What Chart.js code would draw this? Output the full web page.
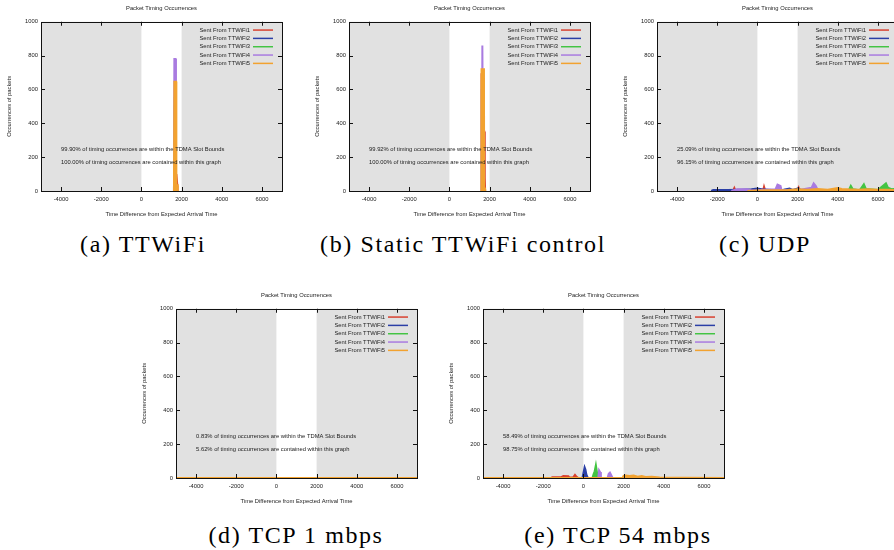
<!DOCTYPE html>
<html>
<head>
<meta charset="utf-8">
<script src="https://cdn.jsdelivr.net/npm/chart.js@4.4.0/dist/chart.umd.min.js"></script>
<style>
html, body { margin: 0; padding: 0; background: #fff; width: 894px; height: 550px; overflow: hidden; position: relative; }
.plot { position: absolute; }
.cap { position: absolute; font-family: "Liberation Serif", "Times New Roman", serif; font-size: 24px; line-height: 24px;
       letter-spacing: 1.6px; white-space: nowrap; transform: translateX(-50%); color: #000; }
</style>
</head>
<body>
<canvas id="cA" class="plot" width="300" height="225" style="left:0px;top:0px"></canvas>
<canvas id="cB" class="plot" width="300" height="225" style="left:308px;top:0px"></canvas>
<canvas id="cC" class="plot" width="300" height="225" style="left:616px;top:0px"></canvas>
<canvas id="cD" class="plot" width="300" height="225" style="left:135px;top:287px"></canvas>
<canvas id="cE" class="plot" width="300" height="225" style="left:442px;top:287px"></canvas>

<div class="cap" style="left:143px;top:232px">(a) TTWiFi</div>
<div class="cap" style="left:463px;top:232px">(b) Static TTWiFi control</div>
<div class="cap" style="left:765px;top:232px">(c) UDP</div>
<div class="cap" style="left:296px;top:523px">(d) TCP 1 mbps</div>
<div class="cap" style="left:618px;top:523px">(e) TCP 54 mbps</div>

<script>
const xTicks = [-4000, -2000, 0, 2000, 4000, 6000]
const yTicks = [0, 200, 400, 600, 800, 1000]
const slotBounds = [0, 2000]
const seriesLabels = ['Sent From TTWiFi1', 'Sent From TTWiFi2', 'Sent From TTWiFi3', 'Sent From TTWiFi4', 'Sent From TTWiFi5']
const seriesColors = ['#d8412f', '#2b3fa6', '#43c443', '#a97be0', '#f2a230']

// (a) TTWiFi  [time, count]
const ttwifi1 = [[1700, 0], [1720, 60], [1740, 100], [1770, 100], [1790, 30], [1800, 0]]
const ttwifi2 = [[1640, 0], [1660, 500], [1700, 500], [1720, 0]]
const ttwifi3 = [[1640, 0], [1660, 550], [1700, 550], [1720, 0]]
const ttwifi4 = [[1620, 0], [1640, 780], [1700, 780], [1720, 0]]
const ttwifi5 = [[1620, 0], [1640, 645], [1730, 645], [1740, 0], [1780, 0], [1800, 40], [1820, 0]]
const notesTtwifi = ['99.90% of timing occurrences are within the TDMA Slot Bounds',
                     '100.00% of timing occurrences are contained within this graph']

// (b) Static TTWiFi control
const static1 = [[1580, 0], [1600, 690], [1640, 690], [1680, 300], [1720, 350], [1740, 350], [1760, 80], [1780, 0]]
const static2 = [[1600, 0], [1620, 600], [1680, 600], [1700, 0]]
const static3 = [[1600, 0], [1620, 650], [1680, 650], [1700, 0]]
const static4 = [[1620, 0], [1640, 860], [1660, 860], [1680, 0]]
const static5 = [[1590, 0], [1600, 720], [1720, 720], [1730, 0], [1760, 0], [1770, 20], [1790, 0]]
const notesStatic = ['99.92% of timing occurrences are within the TDMA Slot Bounds',
                     '100.00% of timing occurrences are contained within this graph']

// (c) UDP
const udp1 = [[-2000, 0], [-1300, 0], [-1200, 5], [-1150, 18], [-1100, 3], [-600, 2], [-200, 5], [0, 8], [300, 10], [330, 25],
              [380, 5], [800, 3], [1500, 5], [2000, 8], [2050, 20], [2100, 4], [2600, 5], [3200, 3], [4000, 2], [5000, 2], [7000, 0]]
const udp2 = [[-2300, 0], [-2200, 6], [-1500, 6], [-800, 8], [-300, 10], [0, 14], [200, 10], [700, 6], [1300, 8], [1600, 15],
              [1750, 6], [2000, 14], [2150, 8], [2600, 6], [3500, 4], [5000, 3], [7000, 2]]
const udp3 = [[3000, 0], [4000, 3], [4550, 5], [4650, 30], [4750, 10], [5100, 5], [5300, 40], [5400, 12], [6000, 6],
              [6400, 45], [6500, 20], [6700, 10], [7000, 15]]
const udp4 = [[-1300, 0], [-1000, 10], [-500, 10], [-300, 3], [0, 4], [900, 10], [1000, 38], [1150, 30], [1200, 6], [2000, 5],
              [2700, 20], [2800, 45], [2900, 30], [3000, 8], [3500, 5], [4500, 3], [7000, 2]]
const udp5 = [[-500, 0], [0, 3], [500, 5], [1500, 6], [2000, 10], [2500, 8], [3000, 12], [3500, 8], [4000, 18], [4200, 12],
              [4500, 10], [5000, 8], [5500, 10], [6000, 7], [6500, 8], [7000, 5]]
const notesUdp = ['25.09% of timing occurrences are within the TDMA Slot Bounds',
                  '96.15% of timing occurrences are contained within this graph']

// (d) TCP 1 mbps
const tcp1_1 = [[-5000, 0], [7000, 0]]
const tcp1_2 = [[-5000, 0], [7000, 0]]
const tcp1_3 = [[-5000, 0], [7000, 0]]
const tcp1_4 = [[-5000, 0], [7000, 0]]
const tcp1_5 = [[-5000, 0], [7000, 0]]
const notesTcp1 = ['0.83% of timing occurrences are within the TDMA Slot Bounds',
                   '5.62% of timing occurrences are contained within this graph']

// (e) TCP 54 mbps
const tcp54_1 = [[-5000, 0], [-1600, 0], [-1550, 5], [-1100, 5], [-1000, 12], [-750, 10], [-700, 3], [-500, 5], [-420, 18],
                 [-350, 8], [-250, 0], [7000, 0]]
const tcp54_2 = [[-5000, 0], [-50, 0], [20, 40], [60, 63], [100, 50], [150, 20], [220, 0], [7000, 0]]
const tcp54_3 = [[-5000, 0], [450, 0], [500, 20], [560, 40], [620, 76], [680, 30], [720, 0], [7000, 0]]
const tcp54_4 = [[-5000, 0], [740, 0], [780, 45], [830, 35], [870, 0], [1200, 0], [1260, 25], [1320, 32], [1380, 18], [1450, 0], [7000, 0]]
const tcp54_5 = [[-5000, 0], [1950, 0], [2000, 12], [2100, 15], [2300, 12], [2500, 15], [2700, 8], [2900, 12], [3100, 6],
                 [3400, 8], [3800, 3], [5000, 2], [7000, 0]]
const notesTcp54 = ['58.49% of timing occurrences are within the TDMA Slot Bounds',
                    '98.75% of timing occurrences are contained within this graph']

const FONT = '"Liberation Sans", Arial, sans-serif'
const TXT = '#222'

const frame = {
    id: 'frame',
    beforeDatasetsDraw(chart) {
        const { ctx, chartArea: a, scales: { x } } = chart
        ctx.save()
        ctx.fillStyle = '#e1e1e1'
        ctx.fillRect(a.left, a.top, a.width, a.height)
        const x0 = x.getPixelForValue(slotBounds[0])
        const x1 = x.getPixelForValue(slotBounds[1])
        ctx.fillStyle = '#fff'
        ctx.fillRect(x0, a.top, x1 - x0, a.height)
        ctx.restore()
    },
    afterDraw(chart) {
        const { ctx, chartArea: a, scales: { x, y } } = chart
        ctx.save()
        // border
        ctx.strokeStyle = '#111'
        ctx.lineWidth = 1
        ctx.strokeRect(Math.round(a.left) + 0.5, Math.round(a.top) + 0.5, Math.round(a.width), Math.round(a.height))
        // inward ticks
        ctx.beginPath()
        xTicks.forEach(v => {
            const px = Math.round(x.getPixelForValue(v)) + 0.5
            ctx.moveTo(px, a.bottom); ctx.lineTo(px, a.bottom - 4)
            ctx.moveTo(px, a.top); ctx.lineTo(px, a.top + 4)
        })
        yTicks.forEach(v => {
            const py = Math.round(y.getPixelForValue(v)) + 0.5
            ctx.moveTo(a.left, py); ctx.lineTo(a.left + 4, py)
            ctx.moveTo(a.right, py); ctx.lineTo(a.right - 4, py)
        })
        ctx.stroke()
        // legend
        ctx.font = '5.8px ' + FONT
        ctx.textBaseline = 'middle'
        ctx.textAlign = 'right'
        chart.data.datasets.forEach((ds, i) => {
            const ly = a.top + 8.3 + i * 8.33
            ctx.fillStyle = TXT
            ctx.fillText(ds.label, a.right - 32, ly)
            ctx.strokeStyle = ds.borderColor
            ctx.lineWidth = 1.5
            ctx.beginPath()
            ctx.moveTo(a.right - 29, ly); ctx.lineTo(a.right - 9, ly)
            ctx.stroke()
        })
        // notes
        ctx.textAlign = 'left'
        ctx.fillStyle = TXT
        const notes = chart.options.plugins.frame.notes
        ctx.fillText(notes[0], x.getPixelForValue(-4000), y.getPixelForValue(245))
        ctx.fillText(notes[1], x.getPixelForValue(-4000), y.getPixelForValue(170))
        ctx.restore()
    }
}

const buildDatasets = list => list.map((pts, i) => ({
    label: seriesLabels[i],
    data: pts.map(p => ({ x: p[0], y: p[1] })),
    borderColor: seriesColors[i],
    backgroundColor: seriesColors[i],
    borderWidth: 2,
    fill: 'origin',
    pointRadius: 0,
    tension: 0,
    order: list.length - i
}))

const makeChart = (id, list, notes) => {
    const context = document.getElementById(id).getContext('2d')
    return new Chart(context, {
        type: 'line',
        data: { datasets: buildDatasets(list) },
        plugins: [frame],
        options: {
            responsive: false,
            animation: false,
            layout: { padding: { left: 0, right: 18, top: 0, bottom: 0 } },
            plugins: {
                legend: { display: false },
                tooltip: { enabled: false },
                frame: { notes: notes },
                title: {
                    display: true,
                    text: 'Packet Timing Occurrences',
                    fullSize: false,
                    color: TXT,
                    font: { family: FONT, size: 5.8, weight: 'normal' },
                    padding: { top: 5.4, bottom: 9.4 }
                }
            },
            scales: {
                x: {
                    type: 'linear',
                    min: -5000,
                    max: 7000,
                    afterBuildTicks: s => { s.ticks = xTicks.map(v => ({ value: v })) },
                    afterFit: s => { s.height = 34 },
                    grid: { display: false, drawTicks: false },
                    border: { display: false },
                    ticks: { color: TXT, padding: 5, maxRotation: 0, font: { family: FONT, size: 5.8 },
                             callback: v => String(v) },
                    title: {
                        display: true,
                        text: 'Time Difference from Expected Arrival Time',
                        color: TXT,
                        font: { family: FONT, size: 5.8 },
                        padding: { top: 0, bottom: 7.4 }
                    }
                },
                y: {
                    type: 'linear',
                    min: 0,
                    max: 1000,
                    afterBuildTicks: s => { s.ticks = yTicks.map(v => ({ value: v })) },
                    afterFit: s => { s.width = 41 },
                    grid: { display: false, drawTicks: false },
                    border: { display: false },
                    ticks: { color: TXT, padding: 3, font: { family: FONT, size: 5.8 },
                             callback: v => String(v) },
                    title: {
                        display: true,
                        text: 'Occurrences of packets',
                        color: TXT,
                        font: { family: FONT, size: 5.8 },
                        padding: { top: 6, bottom: 0 }
                    }
                }
            }
        }
    })
}

makeChart('cA', [ttwifi1, ttwifi2, ttwifi3, ttwifi4, ttwifi5], notesTtwifi)
makeChart('cB', [static1, static2, static3, static4, static5], notesStatic)
makeChart('cC', [udp1, udp2, udp3, udp4, udp5], notesUdp)
makeChart('cD', [tcp1_1, tcp1_2, tcp1_3, tcp1_4, tcp1_5], notesTcp1)
makeChart('cE', [tcp54_1, tcp54_2, tcp54_3, tcp54_4, tcp54_5], notesTcp54)
</script>
</body>
</html>
